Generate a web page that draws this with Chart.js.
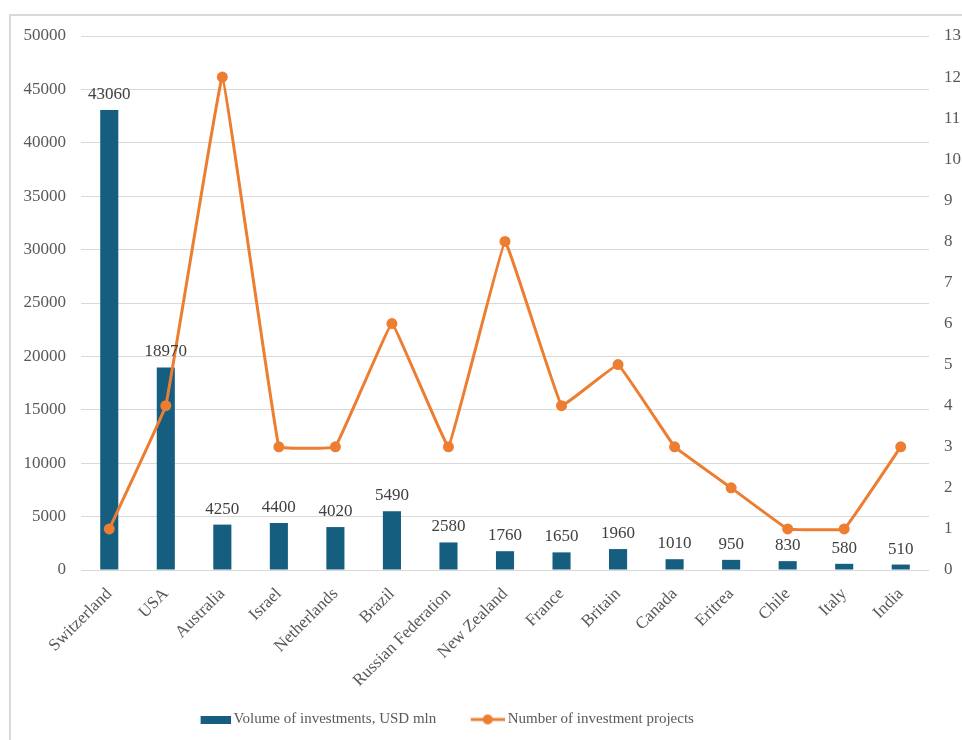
<!DOCTYPE html>
<html>
<head>
<meta charset="utf-8">
<script src="https://cdn.jsdelivr.net/npm/chart.js@4.4.1/dist/chart.umd.min.js"></script>
<style>
    body { margin: 0; background: #fff; }
    #wrap { position: relative; width: 962px; height: 740px; }
    #frame {
        position: absolute; left: 9px; top: 14px; width: 960px; height: 740px;
        border-left: 2px solid #d9d9d9; border-top: 2px solid #d9d9d9;
    }
    #chart { position: absolute; left: 0; top: 0; }
</style>
</head>
<body>
<div id="wrap">
    <div id="frame"></div>
    <canvas id="chart" width="962" height="740"></canvas>
</div>
<script>
// values
var countries = ["Switzerland", "USA", "Australia", "Israel", "Netherlands", "Brazil",
    "Russian Federation", "New Zealand", "France", "Britain", "Canada", "Eritrea",
    "Chile", "Italy", "India"];
var investVolume = [43060, 18970, 4250, 4400, 4020, 5490, 2580, 1760, 1650, 1960, 1010, 950, 830, 580, 510];
var projectCount = [1, 4, 12, 3, 3, 6, 3, 8, 4, 5, 3, 2, 1, 1, 3];
var seriesNames = ["Volume of investments, USD mln", "Number of investment projects"];

var barColor = '#165e80';
var lineColor = '#ed7d31';
var textGray = '#595959';
var serif = "'Liberation Serif', 'Times New Roman', serif";
var fontSize = 17;
var legendFont = 15;
var legendBox = 54;   // box width the legend reserves for each symbol

// legend symbols: visible part sits at the right end, next to the text
function barSymbol() {
    var c = document.createElement('canvas');
    c.width = legendBox + legendFont - 6; c.height = 8;
    var g = c.getContext('2d');
    g.fillStyle = barColor;
    g.fillRect(c.width - 30, 0, 30, 8);
    return c;
}
function lineSymbol() {
    var c = document.createElement('canvas');
    c.width = legendBox + legendFont - 6; c.height = 12;
    var g = c.getContext('2d');
    var x0 = c.width - 34;
    g.strokeStyle = lineColor;
    g.lineWidth = 3;
    g.beginPath(); g.moveTo(x0, 6); g.lineTo(x0 + 34, 6); g.stroke();
    g.fillStyle = lineColor;
    g.beginPath(); g.arc(x0 + 17, 6, 5, 0, Math.PI * 2); g.fill();
    return c;
}
var symbols = [barSymbol(), lineSymbol()];

// values above bars
var barLabels = {
    id: 'barLabels',
    afterLayout: function (chart) {
        // legend sits a little left of centre in the original
        chart.legend.right = 866;
        chart.legend.width = 866 - chart.legend.left;
    },
    afterDatasetsDraw: function (chart) {
        var ctx = chart.ctx;
        var meta = chart.getDatasetMeta(0);
        ctx.save();
        ctx.font = fontSize + "px " + serif;
        ctx.fillStyle = '#404040';
        ctx.textAlign = 'center';
        ctx.textBaseline = 'bottom';
        meta.data.forEach(function (bar, i) {
            ctx.fillText(String(investVolume[i]), bar.x, bar.y - 7);
        });
        ctx.restore();
    }
};

var ctx = document.getElementById("chart").getContext("2d");
new Chart(ctx, {
    data: {
        labels: countries,
        datasets: [{
            type: 'bar',
            label: seriesNames[0],
            data: investVolume,
            backgroundColor: barColor,
            yAxisID: 'y',
            order: 1,
            barPercentage: 0.32,
            categoryPercentage: 1
        }, {
            type: 'line',
            label: seriesNames[1],
            data: projectCount,
            borderColor: lineColor,
            backgroundColor: lineColor,
            borderWidth: 3,
            pointRadius: 5.5,
            pointBackgroundColor: lineColor,
            pointBorderWidth: 0,
            tension: 0.05,
            yAxisID: 'y1',
            order: 0
        }]
    },
    options: {
        responsive: false,
        animation: false,
        layout: { padding: { top: 36, left: 0, right: 0, bottom: 3 } },
        plugins: {
            tooltip: { enabled: false },
            legend: {
                position: 'bottom',
                labels: {
                    usePointStyle: true,
                    pointStyleWidth: legendBox,
                    padding: 10,
                    color: textGray,
                    font: { family: serif, size: legendFont },
                    sort: function (a, b) { return a.datasetIndex - b.datasetIndex; },
                    generateLabels: function (chart) {
                        return chart.data.datasets.map(function (ds, i) {
                            return {
                                text: ds.label,
                                pointStyle: symbols[i],
                                datasetIndex: i,
                                fontColor: textGray,
                                lineWidth: 0
                            };
                        });
                    }
                }
            }
        },
        scales: {
            x: {
                grid: { display: false },
                border: { display: false },
                ticks: {
                    color: textGray,
                    font: { family: serif, size: fontSize },
                    minRotation: 45,
                    maxRotation: 45,
                    autoSkip: false,
                    padding: 6
                },
                afterFit: function (scale) { scale.height = 132; }
            },
            y: {
                position: 'left',
                min: 0,
                max: 50000,
                ticks: {
                    stepSize: 5000,
                    color: textGray,
                    font: { family: serif, size: fontSize },
                    padding: 15,
                    callback: function (v) { return String(v); }
                },
                grid: { color: '#d9d9d9', lineWidth: 1, drawTicks: false },
                border: { display: false },
                afterFit: function (scale) { scale.width = 81; }
            },
            y1: {
                position: 'right',
                min: 0,
                max: 13,
                ticks: {
                    stepSize: 1,
                    color: textGray,
                    font: { family: serif, size: fontSize },
                    padding: 15
                },
                grid: { display: false, drawTicks: false },
                border: { display: false },
                afterFit: function (scale) { scale.width = 33; }
            }
        }
    },
    plugins: [barLabels]
});
</script>
</body>
</html>
